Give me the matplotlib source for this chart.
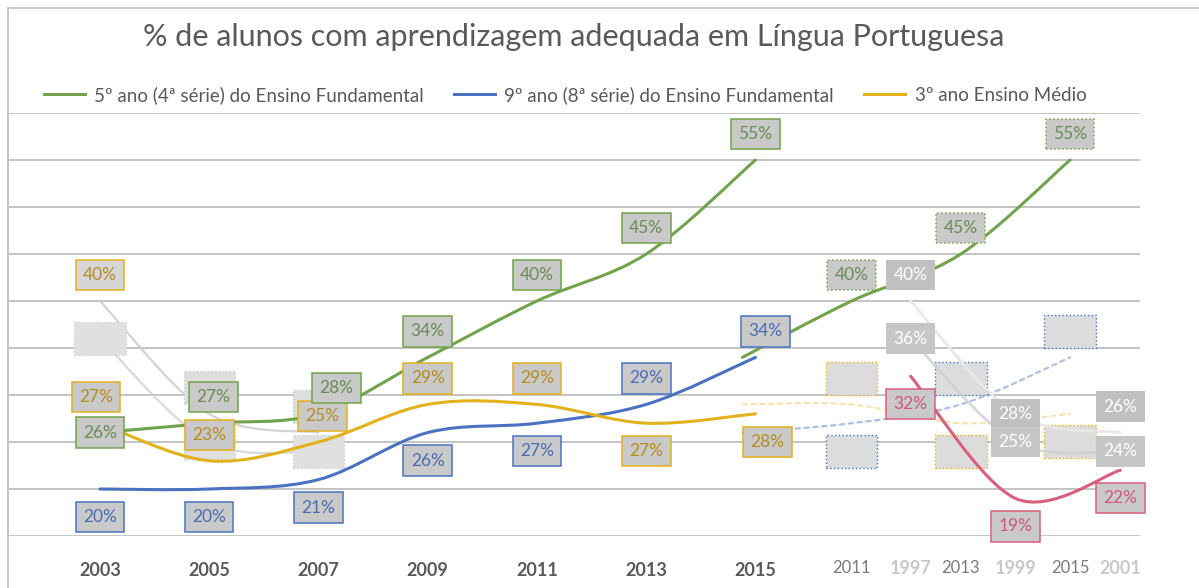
import numpy as np
import matplotlib
matplotlib.use('Agg')
import matplotlib.pyplot as plt
from matplotlib.path import Path
from matplotlib.patches import PathPatch
from matplotlib.lines import Line2D
from matplotlib.offsetbox import DrawingArea, AnnotationBbox
import matplotlib.transforms as mtransforms

# ---------------- data ----------------
years = ['2003', '2005', '2007', '2009', '2011', '2013', '2015']
fund5 = [26, 27, 28, 34, 40, 45, 55]
fund9 = [20, 20, 21, 26, 27, 29, 34]
medio3 = [27, 23, 25, 29, 29, 27, 28]
series_names = ['5º ano (4ª série) do Ensino Fundamental',
                '9º ano (8ª série) do Ensino Fundamental',
                '3º ano Ensino Médio']

ghost_years = ['1997', '1999', '2001']
ghost_red = [32, 19, 22]
ghost_a = [40, 28, 26]
ghost_b = [36, 25, 24]

title = '% de alunos com aprendizagem adequada em Língua Portuguesa'

# ---------------- style ----------------
plt.rcParams['font.family'] = ['Lato', 'DejaVu Sans']
W, H = 1199, 588
fig = plt.figure(figsize=(W / 100, H / 100), dpi=100)
ax = fig.add_axes([8 / W, 52 / H, 1132 / W, 423 / H])
ax.set_ylim(15, 60)
ax.set_xlim(-0.842, 9.52)
ax.set_yticks(np.arange(15, 61, 5))
ax.yaxis.grid(True, color='#c4c4c4', lw=1.4)
ax.set_axisbelow(True)
for s in ['top', 'right', 'bottom']:
    ax.spines[s].set_visible(False)
ax.spines['left'].set_color('#c4c4c4')
ax.spines['left'].set_linewidth(1.4)
ax.tick_params(axis='y', left=False, labelleft=False)
ax.tick_params(axis='x', bottom=False, pad=15)
ax.set_xticks(range(len(years)))
ax.set_xticklabels(years, fontsize=13, fontweight='bold', color='#5a5a5a')

GREEN, BLUE, GOLD, RED = '#72a34c', '#4a72c0', '#e2b11c', '#d8607e'
GREEN_T, BLUE_T, GOLD_T, RED_T = '#6b8a55', '#4a6db0', '#b48c22', '#d05878'
FACE = '#c9c9c9'


def smooth_path(xs, ys):
    pts = np.column_stack([xs, ys]).astype(float)
    n = len(pts)
    verts = [pts[0]]
    codes = [Path.MOVETO]
    for i in range(n - 1):
        p0 = pts[i - 1] if i > 0 else pts[i]
        p1, p2 = pts[i], pts[i + 1]
        p3 = pts[i + 2] if i + 2 < n else pts[i + 1]
        verts += [p1 + (p2 - p0) / 6, p2 - (p3 - p1) / 6, p2]
        codes += [Path.CURVE4] * 3
    return Path(verts, codes)


def draw_line(xs, ys, color, lw=2.2, alpha=1.0, ls='-', z=3):
    ax.add_patch(PathPatch(smooth_path(xs, ys), fc='none', ec=color, lw=lw,
                           alpha=alpha, ls=ls, zorder=z, capstyle='round'))


OFFS = {'above': 26, 'below': -28, 'center': 0}


def draw_label(x, y, txt, place, edge, tcolor, face=FACE, fs=12.5, z=5,
               ls='-', dx=0):
    t = ax.annotate(txt, (x, y), xytext=(dx * 0.72, OFFS[place] * 0.72),
                    textcoords='offset points', ha='center', va='center',
                    fontsize=fs, color=tcolor, zorder=z,
                    bbox=dict(boxstyle='square,pad=0.42', fc=face, ec=edge,
                              lw=1.1, ls=ls),
                    annotation_clip=False)
    t.set_clip_on(True)
    return t


def draw_box(x, y, place, edge, face, z=2):
    # an empty ghost label box (no visible text in the reference)
    da = DrawingArea(37, 24)
    ab = AnnotationBbox(da, (x, y), xybox=(0, OFFS[place] * 0.72),
                        boxcoords='offset points', frameon=True, pad=0.0,
                        bboxprops=dict(fc=face, ec=edge, lw=1.0, ls=':'),
                        zorder=z, annotation_clip=False)
    ab.set_clip_on(True)
    ax.add_artist(ab)


x_main = np.arange(len(years))
green_place = ['center', 'above', 'above', 'above', 'above', 'above', 'above']
green_dx = [0, 4, 18, 0, 0, 0, 0]
blue_place = ['below', 'below', 'below', 'below', 'below', 'above', 'above']
blue_dx = [0, 0, 0, 0, 0, 0, 10]
gold_place = ['above', 'above', 'above', 'above', 'above', 'below', 'below']
gold_dx = [-4, 0, 4, 0, 0, 0, 12]

# ---------------- ghost layers (drawn first, underneath) ----------------
# L2 layer at left offset
x_l2_left = np.arange(len(ghost_years)) * 1.0
draw_line(x_l2_left, ghost_a, '#c9c9c9', lw=1.6, alpha=0.8, z=1)
draw_line(x_l2_left, ghost_b, '#d0d0d0', lw=1.6, alpha=0.8, z=1)
draw_label(x_l2_left[0], ghost_a[0], f'{ghost_a[0]}%', 'above', GOLD, GOLD_T,
           face='#d6d6d6', z=2)
for xi, v in zip(x_l2_left[1:], ghost_a[1:]):
    draw_box(xi, v, 'above', '#cccccc', '#dedede')
for xi, v in zip(x_l2_left, ghost_b):
    draw_box(xi, v, 'center', '#d0d0d0', '#e0e0e0')

# shifted copy of the main chart
shift = 2.88
xs_g = x_main[3:] + shift
draw_line(xs_g, fund9[3:], BLUE, lw=1.6, alpha=0.45, ls=(0, (2, 2)), z=2)
draw_line(xs_g, medio3[3:], GOLD, lw=1.6, alpha=0.35, ls=(0, (2, 2)), z=2)
draw_line(xs_g, fund5[3:], GREEN, lw=2.2, z=3)
for i in range(4, len(years)):
    draw_label(x_main[i] + shift, fund5[i], f'{fund5[i]}%', green_place[i],
               GREEN, GREEN_T, z=4, ls=':')
    draw_box(x_main[i] + shift, fund9[i], blue_place[i], BLUE, '#dcdcdc')
    draw_box(x_main[i] + shift, medio3[i], gold_place[i], GOLD, '#dcdcdc')

# L2 layer at right offset (1997-2001)
x_l2_right = 7.42 + np.arange(len(ghost_years)) * 0.96
draw_line(x_l2_right, ghost_a, '#e8e8e8', lw=2.0, z=2)
draw_line(x_l2_right, ghost_b, '#cfcfcf', lw=2.0, alpha=0.8, z=2)
for xi, v, pl in zip(x_l2_right, ghost_a, ['above', 'center', 'above']):
    draw_label(xi, v, f'{v}%', pl, 'none', 'white', face='#c0c0c0', z=4)
for xi, v in zip(x_l2_right, ghost_b):
    draw_label(xi, v, f'{v}%', 'center', 'none', 'white', face='#c6c6c6', z=4)
draw_line(x_l2_right, ghost_red, RED, lw=2.2, z=5)
for xi, v in zip(x_l2_right, ghost_red):
    draw_label(xi, v, f'{v}%', 'below', RED, RED_T, z=6)

# ghost tick labels
trans = mtransforms.blended_transform_factory(ax.transData, ax.transAxes)
for i in range(4, len(years)):
    ax.text(x_main[i] + shift, -0.0757, years[i], transform=trans,
            ha='center', va='center', fontsize=12, color='#7a7a7a',
            clip_on=False)
for xi, yr in zip(x_l2_right, ghost_years):
    ax.text(xi, -0.0757, yr, transform=trans, ha='center', va='center',
            fontsize=13, fontweight='bold', color='#c8c8c8', clip_on=False)

# ---------------- main layer ----------------
draw_line(x_main, fund9, BLUE, z=6)
draw_line(x_main, medio3, GOLD, z=6)
draw_line(x_main, fund5, GREEN, z=6)
for i in range(len(years)):
    draw_label(x_main[i], fund9[i], f'{fund9[i]}%', blue_place[i], BLUE,
               BLUE_T, z=7, dx=blue_dx[i])
    draw_label(x_main[i], medio3[i], f'{medio3[i]}%', gold_place[i], GOLD,
               GOLD_T, z=7, dx=gold_dx[i])
    draw_label(x_main[i], fund5[i], f'{fund5[i]}%', green_place[i], GREEN,
               GREEN_T, z=7, dx=green_dx[i])

# ---------------- title, legend, border ----------------
fig.text(574 / W, 1 - 37 / H, title, ha='center', va='center', fontsize=22,
         color='#595959')
handles = [Line2D([], [], color=c, lw=2.2) for c in (GREEN, BLUE, GOLD)]
fig.legend(handles, series_names, loc='center', ncol=3, frameon=False,
           bbox_to_anchor=(565 / W, 1 - 95 / H), fontsize=13.5,
           labelcolor='#595959', handlelength=2.2, columnspacing=1.6,
           handletextpad=0.5)
fig.add_artist(Line2D([8 / W, 1], [1 - 8 / H, 1 - 8 / H], color='#c8c8c8',
                      lw=1.4, transform=fig.transFigure))
fig.add_artist(Line2D([8 / W, 8 / W], [0, 1 - 8 / H], color='#c8c8c8',
                      lw=1.4, transform=fig.transFigure))

fig.savefig('out.png', dpi=100, facecolor='white')
